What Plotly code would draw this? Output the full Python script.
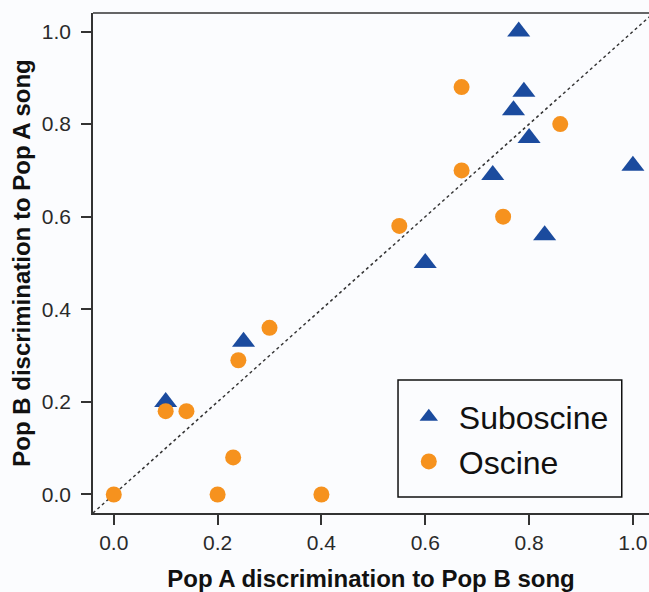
import plotly.graph_objects as go

# Suboscine (triangles)
sub_x = [0.10, 0.25, 0.60, 0.73, 0.77, 0.78, 0.79, 0.80, 0.83, 1.00]
sub_y = [0.20, 0.33, 0.50, 0.69, 0.83, 1.00, 0.87, 0.77, 0.56, 0.71]

# Oscine (circles)
osc_x = [0.00, 0.10, 0.14, 0.20, 0.23, 0.24, 0.30, 0.40, 0.55, 0.67, 0.67, 0.75, 0.86]
osc_y = [0.00, 0.18, 0.18, 0.00, 0.08, 0.29, 0.36, 0.00, 0.58, 0.88, 0.70, 0.60, 0.80]

# identity reference line (y = x)
diag = [-0.04, 1.04]

tick_vals = [0.0, 0.2, 0.4, 0.6, 0.8, 1.0]
tick_text = ["0.0", "0.2", "0.4", "0.6", "0.8", "1.0"]

BLUE = "#1b4b9e"
ORANGE = "#f6921e"
AX = "#333333"
BG = "#fbfcfe"
FONT = "Liberation Sans, Arial, sans-serif"

fig = go.Figure()
fig.add_trace(go.Scatter(x=diag, y=diag, mode="lines",
                         line=dict(color="#333333", width=1.5, dash="3px,3px"),
                         showlegend=False, hoverinfo="skip"))
fig.add_trace(go.Scatter(x=sub_x, y=sub_y, mode="markers", name="Suboscine",
                         marker=dict(symbol="triangle-up", size=20, color=BLUE,
                                     line=dict(width=0))))
fig.add_trace(go.Scatter(x=osc_x, y=osc_y, mode="markers", name="Oscine",
                         marker=dict(symbol="circle", size=16, color=ORANGE,
                                     line=dict(width=0))))

axis_common = dict(
    tickvals=tick_vals, ticktext=tick_text,
    ticks="outside", ticklen=10, tickwidth=1.5, tickcolor=AX,
    showline=True, linecolor=AX, linewidth=1.5,
    showgrid=False, zeroline=False,
    tickfont=dict(family=FONT, size=21, color="#2a2a2a"),
)

fig.update_layout(
    width=649, height=592,
    margin=dict(l=93, r=0, t=13, b=79),
    paper_bgcolor=BG, plot_bgcolor=BG,
    xaxis=dict(range=[-0.04, 1.031], **axis_common, ticklabelstandoff=0,
               title=dict(text="<b>Pop A discrimination to Pop B song</b>",
                          font=dict(family=FONT, size=24, color="#111111"),
                          standoff=17)),
    yaxis=dict(range=[-0.04, 1.04], **axis_common, ticklabelstandoff=6,
               title=dict(text="<b>Pop B discrimination to Pop A song</b>",
                          font=dict(family=FONT, size=24, color="#111111"),
                          standoff=4)),
    legend=dict(x=0.55, y=0.247, xanchor="left", yanchor="top",
                bgcolor="rgba(0,0,0,0)", borderwidth=0, itemwidth=50,
                font=dict(family=FONT, size=32, color="#111111"),
                tracegroupgap=0),
    shapes=[
        dict(type="line", xref="paper", yref="paper", x0=0, x1=1, y0=1, y1=1,
             line=dict(color=AX, width=1.5)),
        dict(type="rect", xref="paper", yref="paper",
             x0=0.5486, x1=0.951, y0=0.032, y1=0.266,
             line=dict(color="#111111", width=1.5), fillcolor="rgba(0,0,0,0)"),
    ],
)

fig.write_html(
    "out.html",
    config={"displayModeBar": False},
    post_script="document.body.style.margin='0';document.body.style.overflow='hidden';",
)
